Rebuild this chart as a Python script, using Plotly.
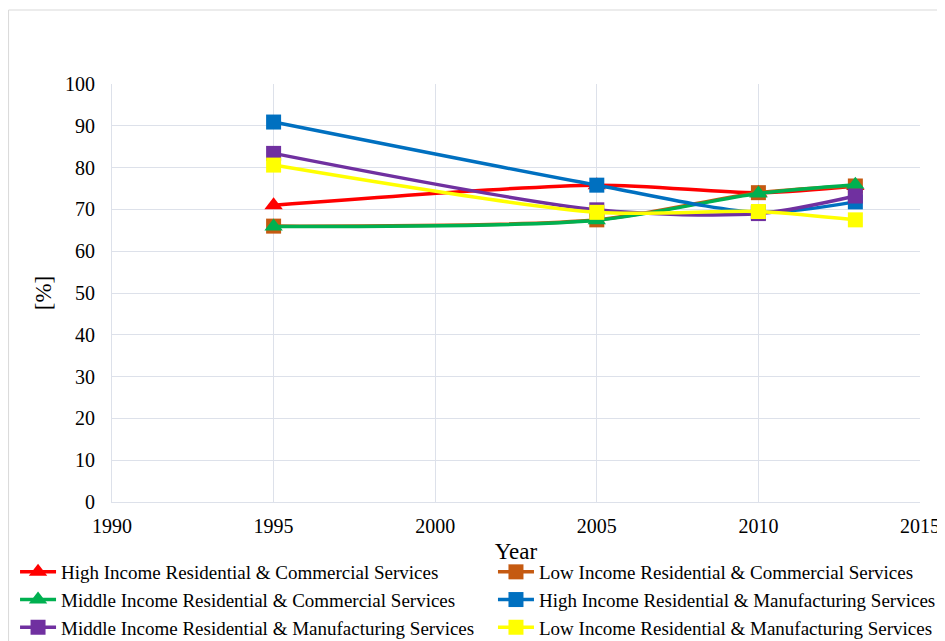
import plotly.graph_objects as go

years = [1995, 2005, 2010, 2013]
series_names = [
    "High Income Residential & Commercial Services",
    "Low Income Residential & Commercial Services",
    "Middle Income Residential & Commercial Services",
    "High Income Residential & Manufacturing Services",
    "Middle Income Residential & Manufacturing Services",
    "Low Income Residential & Manufacturing Services",
]
high_rc = [71.0, 75.8, 74.0, 75.6]
low_rc = [66.0, 67.5, 74.0, 75.6]
middle_rc = [65.9, 67.4, 73.8, 75.9]
high_rm = [90.9, 75.8, 69.3, 71.8]
middle_rm = [83.4, 69.9, 69.0, 73.2]
low_rm = [80.6, 69.3, 69.5, 67.5]

series_values = [high_rc, low_rc, middle_rc, high_rm, middle_rm, low_rm]
colors = ["#FF0000", "#C55A11", "#00B050", "#0070C0", "#7030A0", "#FFFF00"]
symbols = ["triangle-up", "square", "triangle-up", "square", "square", "square"]
legend_ids = ["legend", "legend2", "legend", "legend2", "legend", "legend2"]

x_ticks = [1990, 1995, 2000, 2005, 2010, 2015]
y_ticks = list(range(0, 101, 10))

fig = go.Figure()
for name, vals, c, s, lg in zip(series_names, series_values, colors, symbols, legend_ids):
    fig.add_trace(go.Scatter(
        x=years, y=vals, name=name, mode="lines+markers", legend=lg,
        line=dict(color=c, width=3.5, shape="spline", smoothing=0.8),
        marker=dict(color=c, symbol=s, size=15 if s == "square" else 16),
    ))

font = "Liberation Serif"
grid = "#dde1ea"
legend_common = dict(orientation="v", yanchor="top", xanchor="left",
                     font=dict(size=19), itemwidth=36, tracegroupgap=0,
                     bgcolor="rgba(0,0,0,0)")
fig.update_layout(
    width=937, height=633,
    margin=dict(l=104, r=25, t=76, b=139, autoexpand=False),
    paper_bgcolor="white", plot_bgcolor="white",
    font=dict(family=font, size=19, color="#000000"),
    xaxis=dict(range=[1990, 2015], tickvals=x_ticks, showgrid=True, gridcolor=grid,
               gridwidth=1, showline=True, linecolor=grid, zeroline=False,
               ticks="", ticklabelstandoff=6,
               title=dict(text="Year", standoff=6), tickfont=dict(size=20)),
    yaxis=dict(range=[0, 100], tickvals=y_ticks, showgrid=True, gridcolor=grid,
               gridwidth=1, showline=True, linecolor=grid, zeroline=False,
               ticks="", ticklabelstandoff=12,
               title=dict(text="[%]", standoff=6), tickfont=dict(size=20)),
    legend=dict(x=-0.12, y=-0.122, **legend_common),
    legend2=dict(x=0.4715, y=-0.122, **legend_common),
    showlegend=True,
)
fig.add_shape(type="rect", xref="paper", yref="paper",
              x0=-0.128, x1=1.1, y0=-0.5, y1=1.177,
              line=dict(color="#d9d9d9", width=1), fillcolor="rgba(0,0,0,0)", layer="below")
fig.write_html("out.html")
